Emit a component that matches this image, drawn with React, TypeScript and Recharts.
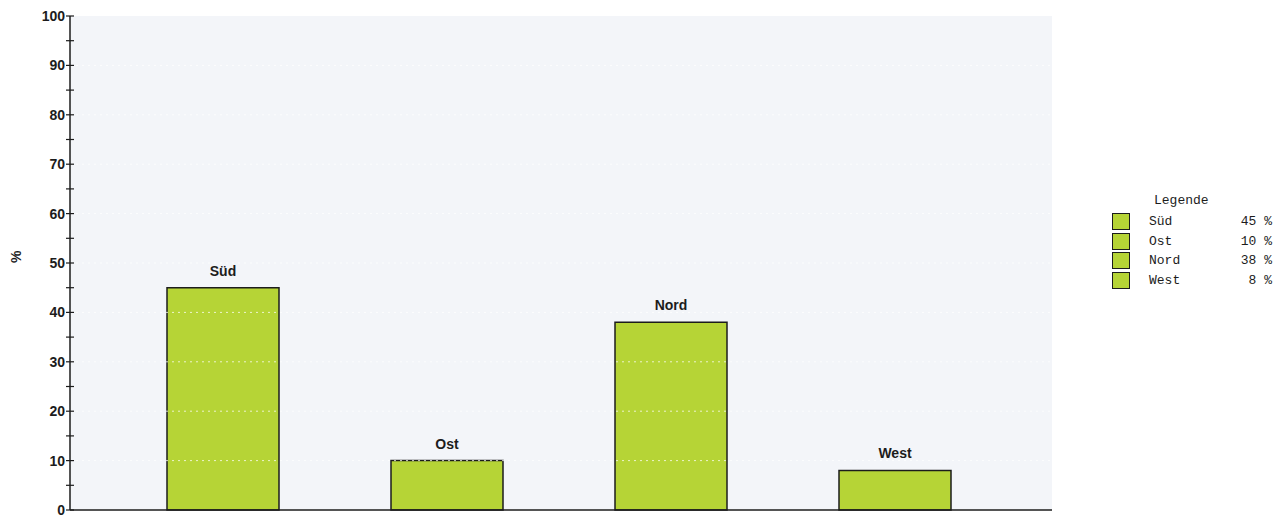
import { BarChart, Bar, XAxis, YAxis, LabelList, ReferenceLine, Label } from "recharts"

const regions = ["Süd", "Ost", "Nord", "West"]
const shares = [45, 10, 38, 8]
const yTicks = [0, 5, 10, 15, 20, 25, 30, 35, 40, 45, 50, 55, 60, 65, 70, 75, 80, 85, 90, 95, 100]
const gridValues = [10, 20, 30, 40, 50, 60, 70, 80, 90]

const data = regions.map((name, i) => ({ name, value: shares[i] }))

const BAR_FILL = "#b6d436"
const INK = "#1c1c1c"
const SANS = "'Liberation Sans', Arial, sans-serif"

const YTick = (props: any) => {
  const { x, y, payload } = props
  const major = payload.value % 10 === 0
  return (
    <g>
      <line x1={x - 4} x2={x + 4} y1={y} y2={y} stroke={INK} strokeWidth={1.2} />
      {major && (
        <text x={x - 5} y={y} dy={5} textAnchor="end" fontFamily={SANS} fontWeight="bold" fontSize={14} fill={INK}>
          {payload.value}
        </text>
      )}
    </g>
  )
}

// legend block to the right of the plot
const LegendBox = () => (
  <div
    style={{
      position: "absolute",
      left: 1112,
      top: 190,
      fontFamily: "'Liberation Mono', 'Courier New', monospace",
      fontSize: 13,
      color: INK,
      width: 165,
    }}
  >
    <div style={{ paddingLeft: 42, height: 22, lineHeight: "22px" }}>Legende</div>
    {regions.map((name, i) => (
      <div key={name} style={{ display: "flex", alignItems: "center", height: 19.5 }}>
        <span
          style={{
            width: 16,
            height: 15,
            background: BAR_FILL,
            border: `1.5px solid ${INK}`,
            marginRight: 19,
            boxSizing: "content-box",
          }}
        />
        <span style={{ width: 70 }}>{name}</span>
        <span style={{ width: 53, textAlign: "right", whiteSpace: "pre" }}>{`${shares[i]} %`}</span>
      </div>
    ))}
  </div>
)

export default function App() {
  return (
    <div style={{ position: "fixed", left: 0, top: 0, width: 1287, height: 517, background: "#ffffff" }}>
      <BarChart
        width={1287}
        height={517}
        data={data}
        margin={{ top: 16, right: 235, left: 0, bottom: 6 }}
        barCategoryGap="25%"
      >
        <rect x={70} y={16} width={982} height={494} fill="#f3f5f9" />
        <XAxis
          dataKey="name"
          height={1}
          tick={false}
          tickLine={false}
          axisLine={{ stroke: INK, strokeWidth: 1.5 }}
          padding={{ left: 41, right: 45 }}
        />
        <YAxis
          width={70}
          domain={[0, 100]}
          ticks={yTicks}
          interval={0}
          tickSize={0}
          tickMargin={0}
          tickLine={false}
          tick={<YTick />}
          axisLine={{ stroke: INK, strokeWidth: 1.5 }}
        >
          <Label
            value="%"
            angle={-90}
            position="insideLeft"
            offset={16}
            style={{ fontFamily: SANS, fontWeight: "bold", fontSize: 14, fill: INK }}
          />
        </YAxis>
        <Bar dataKey="value" fill={BAR_FILL} stroke={INK} strokeWidth={1.5} isAnimationActive={false}>
          <LabelList
            dataKey="name"
            position="top"
            offset={12}
            style={{ fontFamily: SANS, fontWeight: "bold", fontSize: 14, fill: INK }}
          />
        </Bar>
        {gridValues.map((v) => (
          <ReferenceLine key={v} y={v} stroke="#ffffff" strokeOpacity={0.75} strokeDasharray="2 4" />
        ))}
      </BarChart>
      <LegendBox />
    </div>
  )
}
